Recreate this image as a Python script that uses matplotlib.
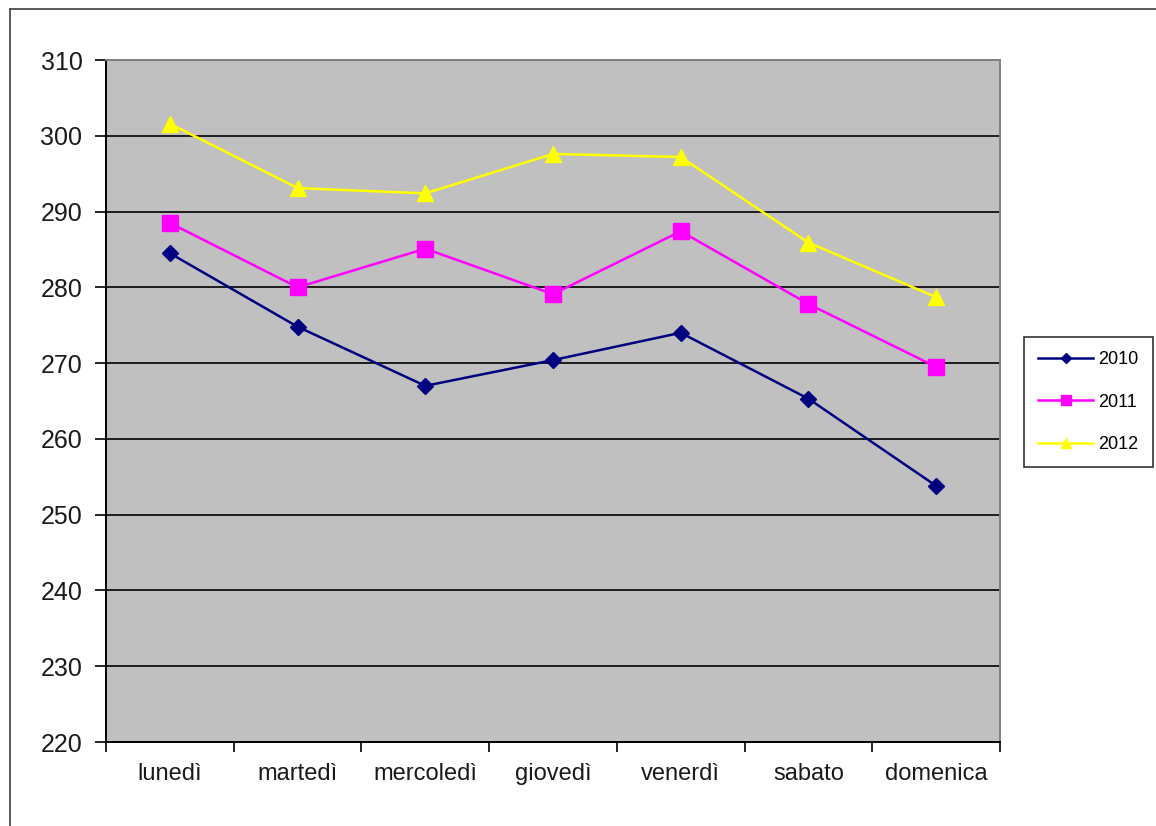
import matplotlib
matplotlib.use("Agg")
import matplotlib.pyplot as plt
from matplotlib.lines import Line2D

plt.rcParams['font.family'] = ['Liberation Sans', 'DejaVu Sans']

days = ["lunedì", "martedì", "mercoledì", "giovedì", "venerdì", "sabato", "domenica"]
series_2010 = [284.5, 274.8, 267.0, 270.4, 274.0, 265.3, 253.8]
series_2011 = [288.5, 280.0, 285.1, 279.1, 287.4, 277.8, 269.5]
series_2012 = [301.6, 293.1, 292.4, 297.6, 297.2, 285.9, 278.7]
labels = ["2010", "2011", "2012"]
y_ticks = list(range(220, 311, 10))

W, H = 1156, 826
fig = plt.figure(figsize=(W / 100, H / 100), dpi=100)
fig.patch.set_facecolor("white")

# outer chart frame (left and top edges visible)
fig.add_artist(Line2D([10 / W, 10 / W], [0, 1 - 9 / H], transform=fig.transFigure,
                      color="#404040", lw=1.2))
fig.add_artist(Line2D([10 / W, 1], [1 - 9 / H, 1 - 9 / H], transform=fig.transFigure,
                      color="#404040", lw=1.2))

left, right, top, bottom = 106, 1000, 60, 742
ax = fig.add_axes([left / W, 1 - bottom / H, (right - left) / W, (bottom - top) / H])
ax.set_facecolor("#C0C0C0")

x = list(range(len(days)))
styles = [
    (series_2010, "#000080", "D", 8),
    (series_2011, "#FF00FF", "s", 11),
    (series_2012, "#FFFF00", "^", 11),
]
handles = []
for (vals, col, mk, ms), lab in zip(styles, labels):
    h, = ax.plot(x, vals, color=col, marker=mk, markersize=ms, lw=1.8,
                 markeredgecolor=col, label=lab, zorder=3)
    handles.append(h)

ax.set_xlim(-0.5, len(days) - 0.5)
ax.set_ylim(220, 310)
ax.set_yticks(y_ticks)
ax.set_yticklabels([str(v) for v in y_ticks])
ax.yaxis.grid(True, color="black", lw=1.2)
ax.set_axisbelow(True)

ax.set_xticks([i + 0.5 for i in range(-1, len(days))], minor=False)
ax.set_xticklabels([])
ax.set_xticks(x, minor=True)
ax.set_xticklabels(days, minor=True)
ax.tick_params(axis="x", which="major", direction="out", length=7, width=1.2, color="black")
ax.tick_params(axis="x", which="minor", length=0, pad=15, labelsize=17, labelcolor="#1a1a1a")
ax.tick_params(axis="y", direction="out", length=8, width=1.2, pad=9, labelsize=18,
               labelcolor="#1a1a1a")

for s in ("left", "bottom"):
    ax.spines[s].set_color("black")
    ax.spines[s].set_linewidth(1.4)
for s in ("top", "right"):
    ax.spines[s].set_color("#808080")
    ax.spines[s].set_linewidth(1.4)

leg = fig.legend(handles=handles, labels=labels,
                 loc="upper left", bbox_to_anchor=(1024 / W, 1 - 337 / H),
                 borderaxespad=0, frameon=True, fancybox=False, edgecolor="black",
                 fontsize=13, handlelength=3.0, handletextpad=0.3, labelspacing=1.4,
                 borderpad=0.8, markerscale=0.65)
leg.get_frame().set_linewidth(1.2)

fig.savefig("out.png", dpi=100, facecolor="white")
